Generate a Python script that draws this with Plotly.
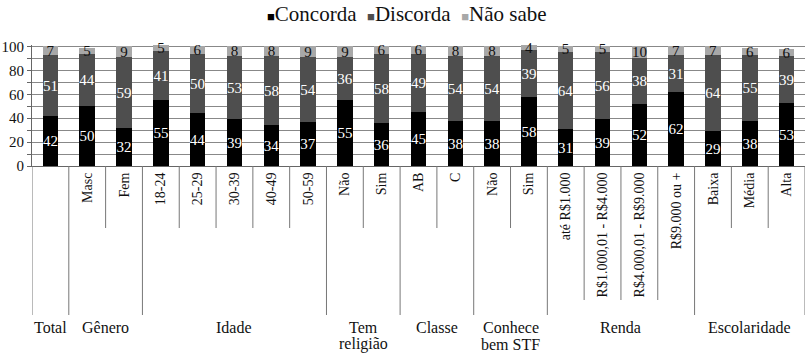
import plotly.graph_objects as go

# Survey breakdown: share who agree / disagree / don't know, by segment
categories = ["Total", "Masc", "Fem", "18-24", "25-29", "30-39", "40-49", "50-59",
              "Não", "Sim", "AB", "C", "Não", "Sim",
              "até R$1.000", "R$1.000,01 - R$4.000", "R$4.000,01 - R$9.000", "R$9.000 ou +",
              "Baixa", "Média", "Alta"]
# the overall column is named only by its group label underneath
tick_labels = [""] + categories[1:]
concorda = [42, 50, 32, 55, 44, 39, 34, 37, 55, 36, 45, 38, 38, 58, 31, 39, 52, 62, 29, 38, 53]
discorda = [51, 44, 59, 41, 50, 53, 58, 54, 36, 58, 49, 54, 54, 39, 64, 56, 38, 31, 64, 55, 39]
nao_sabe = [7, 5, 9, 5, 6, 8, 8, 9, 9, 6, 6, 8, 8, 4, 5, 5, 10, 7, 7, 6, 6]

# segment groups: (label, first index, last index)
groups = [("Total", 0, 0), ("Gênero", 1, 2), ("Idade", 3, 7), ("Tem<br>religião", 8, 9),
          ("Classe", 10, 11), ("Conhece<br>bem STF", 12, 13), ("Renda", 14, 17),
          ("Escolaridade", 18, 20)]

series = [("Concorda", concorda, "#000000", "white"),
          ("Discorda", discorda, "#4e4e4e", "white"),
          ("Não sabe", nao_sabe, "#a8a8a8", "#111111")]

SERIF = "Liberation Serif"
W, H = 806, 353
ML, MR, MT, MB = 32, 1, 45, 187
PLOT_W = W - ML - MR
PLOT_H = H - MT - MB
YMAX = 101.2

def px(xpix):
    """pixel column -> paper x coordinate"""
    return (xpix - ML) / PLOT_W

def py(ypix):
    """pixel row -> paper y coordinate"""
    return (H - MB - ypix) / PLOT_H

x = list(range(len(categories)))
fig = go.Figure()
for name, vals, color, tcolor in series:
    fig.add_trace(go.Bar(
        x=x, y=vals, name=name, width=0.42,
        marker=dict(color=color, line=dict(width=0)),
        text=[str(v) for v in vals], textposition="inside", insidetextanchor="middle",
        textangle=0, constraintext="none", cliponaxis=False,
        textfont=dict(family=SERIF, size=15, color=tcolor),
        showlegend=False,
    ))

# separators below the axis
shapes = []
full_bounds = [g[1] - 0.5 for g in groups] + [len(categories) - 0.5]
for b in full_bounds:
    shapes.append(dict(type="line", xref="x", yref="paper", x0=b, x1=b,
                       y0=0, y1=py(315), line=dict(color="#777777", width=1)))
for label, a, z in groups:
    for k in range(a + 1, z + 1):
        b = k - 0.5
        ybot = py(300) if label == "Renda" else py(228)
        shapes.append(dict(type="line", xref="x", yref="paper", x0=b, x1=b,
                           y0=0, y1=ybot, line=dict(color="#777777", width=1)))

annotations = []
for label, a, z in groups:
    for i, line in enumerate(label.split("<br>")):
        annotations.append(dict(x=(a + z) / 2, xref="x", y=py(327 + 17 * i), yref="paper",
                                text=line, showarrow=False, xanchor="center", yanchor="middle",
                                font=dict(family=SERIF, size=16, color="#111111")))

# legend row
sq = '<span style="color:{c};font-size:13px">■</span>'
gap = "\u00a0\u00a0"
legend_text = gap.join(sq.format(c=c) + n for n, _, c, _ in series)
annotations.append(dict(x=px(407), xref="paper", y=py(14), yref="paper",
                        text=legend_text, showarrow=False, xanchor="center", yanchor="middle",
                        font=dict(family=SERIF, size=21, color="#111111")))

fig.update_layout(
    width=W, height=H, margin=dict(l=ML, r=MR, t=MT, b=MB),
    paper_bgcolor="white", plot_bgcolor="white",
    barmode="stack", bargap=0,
    shapes=shapes, annotations=annotations,
    xaxis=dict(range=[-0.5, len(categories) - 0.5], tickmode="array", tickvals=x,
               ticktext=tick_labels, tickangle=-90, ticks="", showgrid=False,
               showline=True, linecolor="#666666", linewidth=1, zeroline=False,
               tickfont=dict(family=SERIF, size=14, color="#111111")),
    yaxis=dict(range=[0, YMAX], dtick=20, tick0=0, showgrid=True, gridcolor="#888888",
               gridwidth=1, ticks="outside", ticklen=4, tickcolor="#666666",
               minor=dict(dtick=10, showgrid=True, gridcolor="#888888", ticks="outside",
                          ticklen=4, tickcolor="#666666"),
               showline=True, linecolor="#666666", linewidth=1, zeroline=False,
               tickfont=dict(family=SERIF, size=15, color="#111111")),
)

fig.write_html("out.html")
